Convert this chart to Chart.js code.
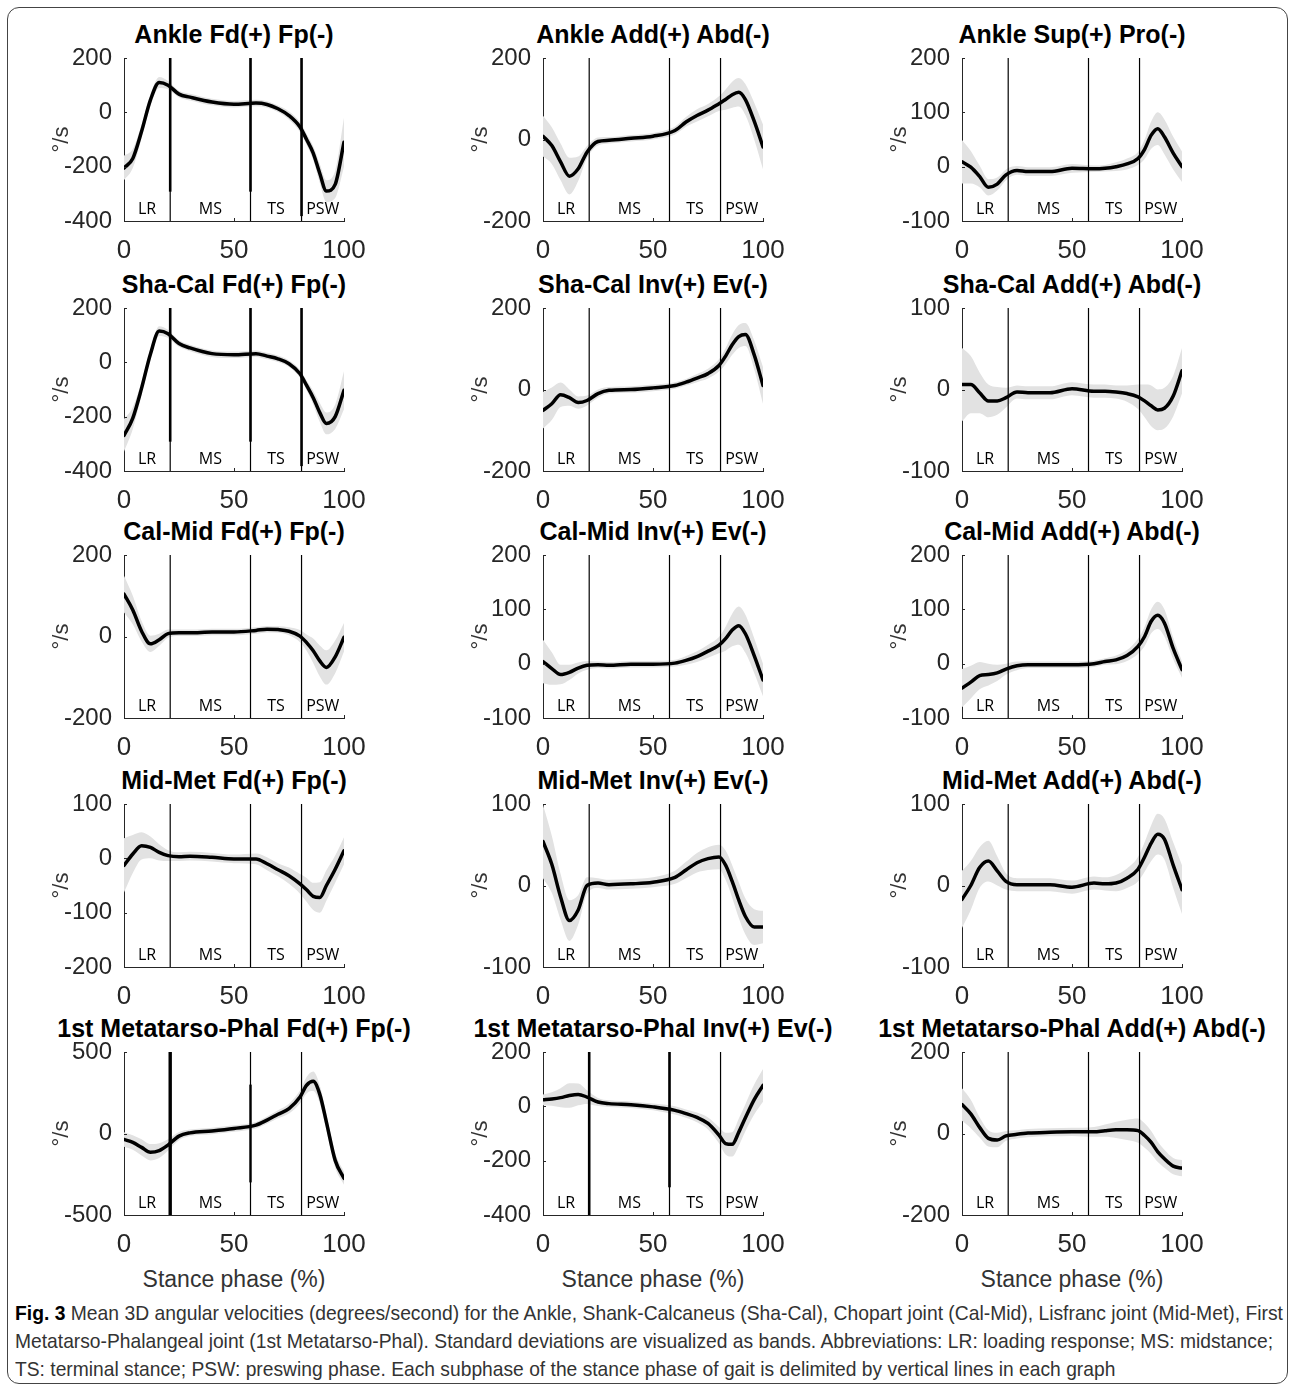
<!DOCTYPE html>
<html>
<head>
<meta charset="utf-8">
<script src="https://cdn.jsdelivr.net/npm/chart.js@4.4.1/dist/chart.umd.min.js"></script>
<style>
    body { margin: 0; background: #fff; width: 1292px; height: 1391px; position: relative; overflow: hidden;
           font-family: 'Liberation Sans', Arial, Helvetica, sans-serif; }
    canvas { position: absolute; }
    .panel-title { position: absolute; font-weight: bold; font-size: 25px; line-height: 25px; color: #000;
                   white-space: nowrap; transform: translateX(-50%); }
    .x-label { position: absolute; font-size: 23px; line-height: 23px; color: #333; white-space: nowrap;
               transform: translateX(-50%); }
    .frame { position: absolute; left: 7px; top: 7px; width: 1281px; height: 1377px;
             border: 1.5px solid #444; border-radius: 12px; box-sizing: border-box; }
    .caption { position: absolute; left: 15px; top: 1299px; color: #333;
               font-family: 'Liberation Sans', Arial, sans-serif; font-size: 21px; line-height: 28px; }
    .caption span { display: inline-block; white-space: nowrap; transform-origin: 0 0; }
    .caption b { color: #000; }
</style>
</head>
<body>
<div class="frame"></div>
<div id="figure"></div>
<div class="caption">
    <div><span data-w="1268"><b>Fig. 3</b> Mean 3D angular velocities (degrees/second) for the Ankle, Shank-Calcaneus (Sha-Cal), Chopart joint (Cal-Mid), Lisfranc joint (Mid-Met), First</span></div>
    <div><span data-w="1258">Metatarso-Phalangeal joint (1st Metatarso-Phal). Standard deviations are visualized as bands. Abbreviations: LR: loading response; MS: midstance;</span></div>
    <div><span>TS: terminal stance; PSW: preswing phase. Each subphase of the stance phase of gait is delimited by vertical lines in each graph</span></div>
</div>
<script>
// ---- data (stance phase %, deg/s) ----
const stancePct = [0, 4, 8, 12, 16, 20, 25, 30, 40, 50, 60, 65, 70, 75, 80, 83, 86, 89, 92, 96, 100];
const phaseBounds = [21, 57.5, 80.7];
const phaseLabels = ['LR', 'MS', 'TS', 'PSW'];
const xTicks = [0, 50, 100];

const ankleFdMean = [-205, -170, -70, 45, 110, 100, 67, 56, 38, 30, 34, 29, 13, -12, -54, -100, -150, -225, -290, -265, -110];
const ankleFdSd   = [45, 35, 25, 20, 20, 15, 12, 12, 12, 12, 12, 12, 12, 15, 18, 20, 25, 35, 40, 50, 90];
const ankleFdTicks = [-400, -200, 0, 200];

const ankleAddMean = [8, -15, -55, -90, -72, -31, -5, -2, 3, 8, 22, 43, 59, 72, 88, 98, 110, 116, 98, 45, -18];
const ankleAddSd   = [50, 45, 45, 45, 30, 15, 10, 8, 8, 8, 10, 12, 15, 15, 18, 25, 32, 35, 38, 45, 55];
const ankleAddTicks = [-200, 0, 200];

const ankleSupMean = [9, -1, -18, -38, -32, -15, -7, -9, -9, -3, -4, -3, 0, 5, 15, 32, 58, 70, 55, 25, 0];
const ankleSupSd   = [40, 30, 20, 15, 12, 10, 8, 8, 8, 8, 6, 6, 8, 10, 12, 18, 25, 30, 32, 30, 28];
const ankleSupTicks = [-100, 0, 100, 200];

const shaCalFdMean = [-269, -205, -95, 30, 115, 105, 69, 53, 32, 28, 32, 23, 13, -5, -42, -85, -130, -185, -225, -200, -103];
const shaCalFdSd   = [60, 40, 25, 20, 18, 15, 12, 12, 12, 12, 12, 12, 12, 12, 15, 18, 25, 35, 40, 45, 70];
const shaCalFdTicks = [-400, -200, 0, 200];

const shaCalInvMean = [-51, -35, -13, -20, -32, -27, -10, -2, 0, 4, 10, 18, 28, 39, 59, 82, 110, 130, 135, 85, 10];
const shaCalInvSd   = [45, 40, 30, 20, 15, 12, 10, 8, 8, 8, 8, 8, 10, 12, 15, 20, 25, 28, 28, 35, 45];
const shaCalInvTicks = [-200, 0, 200];

const shaCalAddMean = [6, 6, -4, -14, -14, -10, -3, -4, -4, 1, -2, -2, -3, -5, -9, -14, -20, -25, -23, -8, 23];
const shaCalAddSd   = [45, 35, 25, 20, 17, 12, 8, 8, 8, 8, 8, 8, 8, 10, 15, 20, 25, 25, 25, 25, 28];
const shaCalAddTicks = [-100, 0, 100];

const calMidFdMean = [104, 65, 13, -18, -8, 7, 9, 9, 11, 11, 15, 18, 17, 13, 1, -15, -35, -60, -76, -50, -2];
const calMidFdSd   = [45, 35, 25, 20, 15, 10, 8, 8, 8, 8, 8, 8, 8, 10, 15, 20, 30, 38, 42, 40, 35];
const calMidFdTicks = [-200, 0, 200];

const calMidInvMean = [4, -9, -20, -16, -8, -3, -2, -3, -1, -1, 1, 6, 13, 23, 34, 46, 62, 70, 55, 15, -30];
const calMidInvSd   = [40, 30, 18, 14, 10, 8, 6, 6, 6, 6, 6, 8, 10, 12, 15, 22, 30, 35, 35, 32, 30];
const calMidInvTicks = [-100, 0, 100, 200];

const calMidAddMean = [-45, -34, -22, -20, -17, -10, -4, -2, -2, -2, 0, 4, 7, 15, 32, 50, 78, 89, 75, 28, -11];
const calMidAddSd   = [35, 30, 25, 20, 15, 10, 8, 6, 6, 6, 6, 6, 8, 10, 14, 18, 22, 25, 25, 20, 15];
const calMidAddTicks = [-100, 0, 100, 200];

const midMetFdMean = [-13, 8, 23, 20, 11, 5, 3, 4, 2, -1, -1, -10, -21, -32, -47, -58, -70, -72, -50, -20, 14];
const midMetFdSd   = [50, 35, 25, 20, 15, 10, 8, 8, 8, 8, 10, 12, 12, 15, 18, 22, 25, 28, 28, 25, 25];
const midMetFdTicks = [-200, -100, 0, 100];

const midMetInvMean = [54, 26, -14, -43, -30, 0, 3, 1, 2, 4, 10, 19, 28, 33, 35, 25, 5, -18, -38, -51, -51];
const midMetInvSd   = [45, 35, 28, 25, 18, 10, 6, 6, 6, 6, 8, 10, 12, 14, 15, 18, 20, 22, 22, 22, 20];
const midMetInvTicks = [-100, 0, 100];

const midMetAddMean = [-17, 0, 22, 30, 18, 5, 1, 1, 1, -2, 3, 2, 3, 9, 20, 35, 52, 63, 57, 25, -5];
const midMetAddSd   = [35, 30, 25, 25, 18, 10, 8, 8, 8, 8, 8, 8, 10, 12, 15, 18, 22, 25, 25, 28, 30];
const midMetAddTicks = [-100, 0, 100];

const mtpFdMean = [-37, -55, -85, -115, -105, -71, -16, 4, 16, 31, 51, 82, 118, 153, 224, 296, 320, 240, 70, -165, -275];
const mtpFdSd   = [45, 45, 50, 50, 45, 35, 25, 20, 20, 20, 20, 22, 25, 30, 40, 50, 60, 55, 50, 45, 40];
const mtpFdTicks = [-500, 0, 500];

const mtpInvMean = [24, 27, 32, 40, 44, 34, 16, 10, 6, -2, -15, -27, -41, -63, -106, -137, -140, -95, -42, 25, 77];
const mtpInvSd   = [20, 25, 35, 45, 40, 25, 15, 12, 12, 12, 15, 15, 18, 22, 30, 40, 45, 50, 50, 55, 60];
const mtpInvTicks = [-400, -200, 0, 200];

const mtpAddMean = [71, 48, 15, -12, -16, -6, -2, 1, 3, 4, 4, 7, 9, 9, 7, -5, -22, -45, -62, -80, -85];
const mtpAddSd   = [40, 35, 25, 20, 18, 12, 10, 10, 10, 10, 12, 15, 20, 25, 30, 30, 28, 25, 22, 20, 20];
const mtpAddTicks = [-200, 0, 200];

// ---- panels in reading order (row by row) ----
const panels = [
    { title: 'Ankle Fd(+) Fp(-)', mean: ankleFdMean, sd: ankleFdSd, ticks: ankleFdTicks },
    { title: 'Ankle Add(+) Abd(-)', mean: ankleAddMean, sd: ankleAddSd, ticks: ankleAddTicks },
    { title: 'Ankle Sup(+) Pro(-)', mean: ankleSupMean, sd: ankleSupSd, ticks: ankleSupTicks },
    { title: 'Sha-Cal Fd(+) Fp(-)', mean: shaCalFdMean, sd: shaCalFdSd, ticks: shaCalFdTicks },
    { title: 'Sha-Cal Inv(+) Ev(-)', mean: shaCalInvMean, sd: shaCalInvSd, ticks: shaCalInvTicks },
    { title: 'Sha-Cal Add(+) Abd(-)', mean: shaCalAddMean, sd: shaCalAddSd, ticks: shaCalAddTicks },
    { title: 'Cal-Mid Fd(+) Fp(-)', mean: calMidFdMean, sd: calMidFdSd, ticks: calMidFdTicks },
    { title: 'Cal-Mid Inv(+) Ev(-)', mean: calMidInvMean, sd: calMidInvSd, ticks: calMidInvTicks },
    { title: 'Cal-Mid Add(+) Abd(-)', mean: calMidAddMean, sd: calMidAddSd, ticks: calMidAddTicks },
    { title: 'Mid-Met Fd(+) Fp(-)', mean: midMetFdMean, sd: midMetFdSd, ticks: midMetFdTicks },
    { title: 'Mid-Met Inv(+) Ev(-)', mean: midMetInvMean, sd: midMetInvSd, ticks: midMetInvTicks },
    { title: 'Mid-Met Add(+) Abd(-)', mean: midMetAddMean, sd: midMetAddSd, ticks: midMetAddTicks },
    { title: '1st Metatarso-Phal Fd(+) Fp(-)', mean: mtpFdMean, sd: mtpFdSd, ticks: mtpFdTicks },
    { title: '1st Metatarso-Phal Inv(+) Ev(-)', mean: mtpInvMean, sd: mtpInvSd, ticks: mtpInvTicks },
    { title: '1st Metatarso-Phal Add(+) Abd(-)', mean: mtpAddMean, sd: mtpAddSd, ticks: mtpAddTicks }
];

// heavier phase-divider strokes seen in some panels: [lineIdx, fromFrac, toFrac, width]
const heavyDividers = {
    0: [[0, 0, 0.82, 2.6], [1, 0, 0.82, 2.6], [2, 0, 0.97, 2.6]],
    3: [[0, 0, 0.82, 2.6], [1, 0, 0.82, 2.6], [2, 0, 0.97, 2.6]],
    12: [[0, 0, 1, 3.4], [1, 0.2, 0.8, 2.4]],
    13: [[0, 0, 1, 2.6], [1, 0, 0.83, 2.6]]
};

// ---- layout of the 5x3 grid ----
const colLeft = [124, 543, 962];
const rowTop = [58, 308, 555, 804, 1052];
const plotW = 220, plotH = 163;
const padL = 90, padT = 10, padR = 30, axisH = 45;

const tickFont = "'Liberation Sans', Arial, Helvetica, sans-serif";
const inkColor = '#262626';

const stanceDecor = {
    id: 'stanceDecor',
    afterDatasetDraw(chart, args, opts) {
        // dividers go over the SD band but under the mean curve
        if (args.index !== 1) return;
        const { ctx, chartArea: a } = chart;
        const x = chart.scales.x;
        ctx.save();
        ctx.strokeStyle = '#000';
        phaseBounds.forEach(b => {
            const px = x.getPixelForValue(b);
            ctx.lineWidth = 1.2;
            ctx.beginPath();
            ctx.moveTo(px, a.top);
            ctx.lineTo(px, a.bottom);
            ctx.stroke();
        });
        (opts.heavy || []).forEach(([i, f0, f1, w]) => {
            const px = x.getPixelForValue(phaseBounds[i]);
            const h = a.bottom - a.top;
            ctx.lineWidth = w;
            ctx.beginPath();
            ctx.moveTo(px, a.top + f0 * h);
            ctx.lineTo(px, a.top + f1 * h);
            ctx.stroke();
        });
        ctx.restore();
    },
    afterDraw(chart) {
        const { ctx, chartArea: a } = chart;
        const x = chart.scales.x, y = chart.scales.y;
        ctx.save();

        // small inward tick marks
        ctx.strokeStyle = inkColor;
        ctx.lineWidth = 1;
        x.ticks.forEach(t => {
            const px = Math.round(x.getPixelForValue(t.value)) + 0.5;
            ctx.beginPath();
            ctx.moveTo(px, a.bottom);
            ctx.lineTo(px, a.bottom - 3);
            ctx.stroke();
        });
        y.ticks.forEach(t => {
            const py = Math.round(y.getPixelForValue(t.value)) + 0.5;
            ctx.beginPath();
            ctx.moveTo(a.left, py);
            ctx.lineTo(a.left + 3, py);
            ctx.stroke();
        });

        // sub-phase labels
        ctx.fillStyle = '#000';
        ctx.font = "16px 'Open Sans', 'Noto Sans', sans-serif";
        ctx.textAlign = 'center';
        ctx.textBaseline = 'middle';
        const edges = [0, ...phaseBounds, 100];
        phaseLabels.forEach((lab, i) => {
            const mid = (edges[i] + edges[i + 1]) / 2;
            ctx.fillText(lab, x.getPixelForValue(mid), a.bottom - 12);
        });

        // y axis unit
        ctx.fillStyle = '#333';
        ctx.font = "22px " + tickFont;
        ctx.translate(a.left - 62, (a.top + a.bottom) / 2);
        ctx.rotate(-Math.PI / 2);
        ctx.fillText('°/s', 0, 0);
        ctx.restore();
    }
};

function makePanel(p, idx) {
    const col = idx % 3, row = Math.floor(idx / 3);
    const fig = document.getElementById('figure');

    const canvas = document.createElement('canvas');
    canvas.width = padL + plotW + padR;
    canvas.height = padT + plotH + axisH;
    canvas.style.left = (colLeft[col] - padL) + 'px';
    canvas.style.top = (rowTop[row] - padT) + 'px';
    fig.appendChild(canvas);

    const title = document.createElement('div');
    title.className = 'panel-title';
    title.textContent = p.title;
    title.style.left = (colLeft[col] + plotW / 2) + 'px';
    title.style.top = (rowTop[row] - 36) + 'px';
    fig.appendChild(title);

    if (row === 4) {
        const xl = document.createElement('div');
        xl.className = 'x-label';
        xl.textContent = 'Stance phase (%)';
        xl.style.left = (colLeft[col] + plotW / 2) + 'px';
        xl.style.top = '1268px';
        fig.appendChild(xl);
    }

    const meanPts = stancePct.map((x, i) => ({ x, y: p.mean[i] }));
    const upperPts = stancePct.map((x, i) => ({ x, y: p.mean[i] + p.sd[i] }));
    const lowerPts = stancePct.map((x, i) => ({ x, y: p.mean[i] - p.sd[i] }));
    const yMin = p.ticks[0], yMax = p.ticks[p.ticks.length - 1];

    new Chart(canvas.getContext('2d'), {
        type: 'line',
        data: {
            datasets: [
                { data: meanPts, borderColor: '#000', borderWidth: 3.5, fill: false,
                  cubicInterpolationMode: 'monotone', borderCapStyle: 'round', pointRadius: 0 },
                { data: upperPts, borderWidth: 0, borderColor: 'rgba(0,0,0,0)', backgroundColor: '#e2e2e2',
                  fill: '+1', cubicInterpolationMode: 'monotone', pointRadius: 0 },
                { data: lowerPts, borderWidth: 0, borderColor: 'rgba(0,0,0,0)', fill: false,
                  cubicInterpolationMode: 'monotone', pointRadius: 0 }
            ]
        },
        options: {
            responsive: false,
            animation: false,
            events: [],
            layout: { autoPadding: false, padding: { left: 0, top: padT, right: padR, bottom: 0 } },
            plugins: {
                legend: { display: false },
                tooltip: { enabled: false },
                stanceDecor: { heavy: heavyDividers[idx] }
            },
            scales: {
                x: {
                    type: 'linear', min: 0, max: 100,
                    afterFit: s => { s.height = axisH; s.paddingLeft = 0; s.paddingRight = 0; },
                    afterBuildTicks: s => { s.ticks = xTicks.map(v => ({ value: v })); },
                    grid: { display: false, drawTicks: false },
                    border: { display: true, color: inkColor, width: 1 },
                    ticks: { font: { family: tickFont, size: 26 }, color: inkColor, padding: 14,
                             maxRotation: 0, autoSkip: false }
                },
                y: {
                    type: 'linear', min: yMin, max: yMax,
                    afterFit: s => { s.width = padL; s.paddingTop = 0; s.paddingBottom = 0; },
                    afterBuildTicks: s => { s.ticks = p.ticks.map(v => ({ value: v })); },
                    grid: { display: false, drawTicks: false },
                    border: { display: true, color: inkColor, width: 1 },
                    ticks: { font: { family: tickFont, size: 24 }, color: inkColor, padding: 12, autoSkip: false }
                }
            }
        },
        plugins: [stanceDecor]
    });
}

panels.forEach(makePanel);

// squeeze caption lines horizontally to the condensed width of the original
(function fitCaption() {
    const spans = document.querySelectorAll('.caption span');
    let k = 1;
    spans.forEach(s => {
        const target = parseFloat(s.dataset.w || 0);
        if (target) k = target / s.getBoundingClientRect().width;
        s.style.transform = 'scaleX(' + k.toFixed(4) + ')';
    });
})();
</script>
</body>
</html>
